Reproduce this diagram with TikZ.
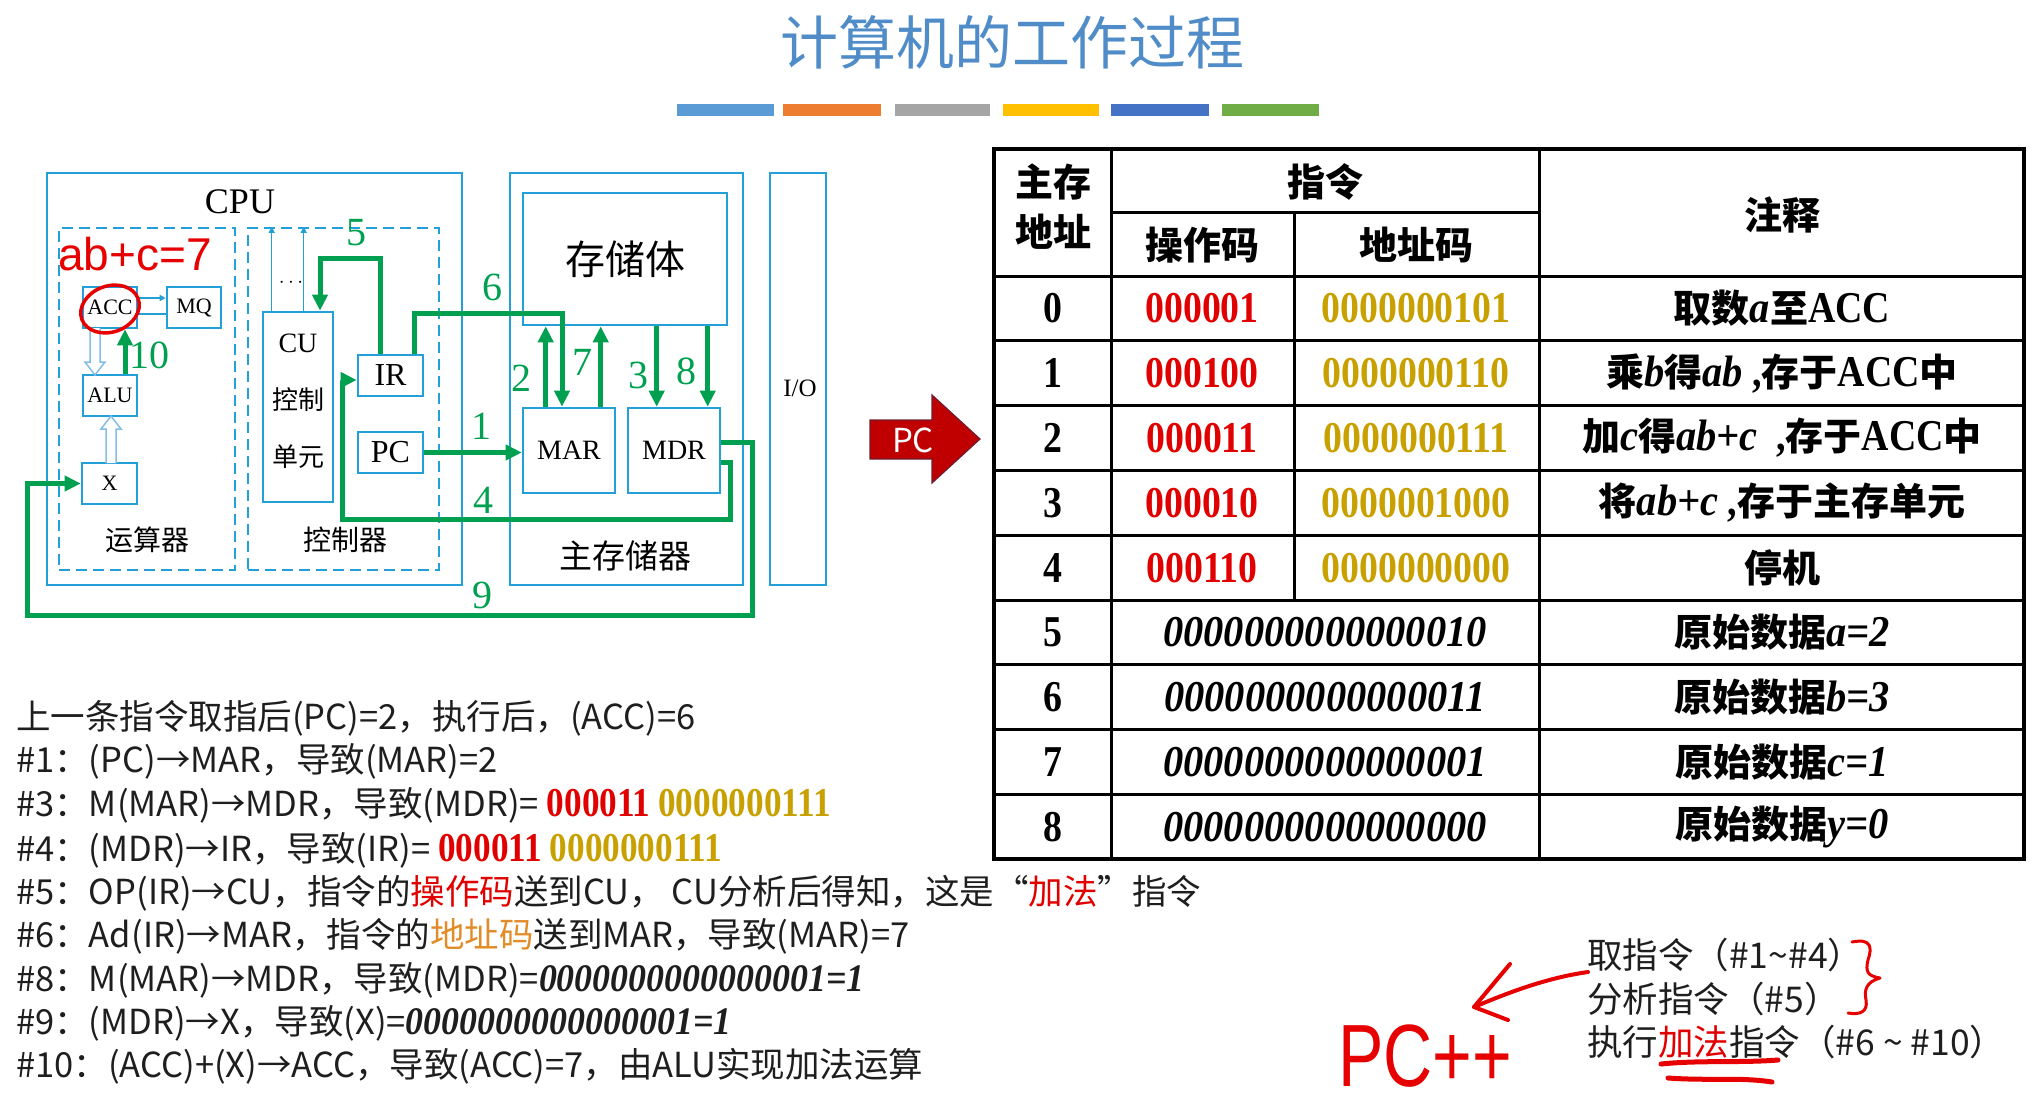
\documentclass[tikz,border=0pt]{standalone}
\usepackage{fontspec}
\usepackage{graphicx}
\usetikzlibrary{arrows.meta}
\setmainfont{Liberation Serif}
\newfontfamily\zh{Noto Sans CJK SC}
\newfontfamily\tnr[FakeStretch=0.86]{Liberation Serif}
\newfontfamily\tni[FakeStretch=0.92]{Liberation Serif}
\newfontfamily\hand{Liberation Sans}
\newcommand\fsz[1]{\fontsize{#1pt}{#1pt}\selectfont}
\definecolor{bx}{RGB}{35,160,215}
\definecolor{gr}{RGB}{0,160,80}
\definecolor{ttl}{RGB}{80,140,200}
\definecolor{rd}{RGB}{225,0,0}
\definecolor{gd}{RGB}{200,160,0}
\definecolor{org}{RGB}{225,140,40}
\definecolor{pcred}{RGB}{192,0,0}
\definecolor{pcedge}{RGB}{110,30,50}
\definecolor{hb}{RGB}{130,190,230}
\definecolor{hr}{RGB}{230,0,0}
\definecolor{txt}{RGB}{30,30,30}
\definecolor{ba}{RGB}{91,155,213}
\definecolor{bb}{RGB}{237,125,49}
\definecolor{bc}{RGB}{165,165,165}
\definecolor{bd}{RGB}{255,192,0}
\definecolor{be}{RGB}{68,114,196}
\definecolor{bf}{RGB}{112,173,71}
\newcommand\Z[1]{{\zh\bfseries\fsz{38}#1}}
\newcommand\tbf[1]{{\tnr\bfseries\fsz{44}#1}}
\newcommand\tbi[1]{{\tni\bfseries\itshape\fsz{44}#1}}
\newcommand\bnum[1]{{\tnr\bfseries\fsz{41}#1}}
\newcommand\bitn[1]{{\tni\bfseries\itshape\fsz{39}#1}}
\begin{document}
\begin{tikzpicture}[x=1pt,y=-1pt,
  bbox/.style={draw=bx, line width=2.6pt, inner sep=0pt, font=\fsz{22}},
  dbox/.style={draw=bx, line width=2.4pt, dash pattern=on 11pt off 6pt, inner sep=0pt},
  gar/.style={draw=gr, line width=5pt, -{Triangle[length=16pt,width=15pt]}},
  glbl/.style={text=gr, font=\fsz{40}, inner sep=0pt},
  thinb/.style={draw=bx, line width=1.5pt},
  hollow/.style={draw=hb, line width=1.5pt, fill=white},
  tline/.style={line width=3pt},
  thead/.style={font=\zh\bfseries\fsz{38}, inner sep=0pt},
  tnum/.style={font=\tnr\bfseries\fsz{44}, inner sep=0pt},
  tit/.style={font=\tni\bfseries\itshape\fsz{44}, inner sep=0pt},
  tcm/.style={inner sep=0pt},
  ltxt/.style={anchor=west, font=\zh\fsz{34.5}, text=txt, inner sep=0pt},
  rtxt/.style={anchor=west, font=\zh\fsz{35.5}, text=txt, inner sep=0pt},
  zhl/.style={font=\zh\fsz{28}, inner sep=0pt},
  hred/.style={draw=hr, line width=4pt, line cap=round, line join=round},
  bar/.style={inner sep=0pt, minimum height=12pt}]
\useasboundingbox (0,0) rectangle (2043,1101);

% title and bars
\node[text=ttl, font=\zh\fsz{58}, inner sep=0pt] (title) at (1012,42) {计算机的工作过程};
\node[bar, fill=ba, minimum width=97pt] (bar1) at (725.5,110) {};
\node[bar, fill=bb, minimum width=98pt] (bar2) at (832,110) {};
\node[bar, fill=bc, minimum width=95pt] (bar3) at (942.5,110) {};
\node[bar, fill=bd, minimum width=96pt] (bar4) at (1051,110) {};
\node[bar, fill=be, minimum width=98pt] (bar5) at (1160,110) {};
\node[bar, fill=bf, minimum width=97pt] (bar6) at (1270.5,110) {};

% ===== left diagram =====
\node[bbox, minimum width=415pt, minimum height=412pt] (CPU) at (254.5,379) {};
\node[font=\fsz{36}, inner sep=0pt] (cpul) at (240,202) {CPU};
\node[dbox, minimum width=176pt, minimum height=342pt] (ALUG) at (147,399) {};
\node[dbox, minimum width=191pt, minimum height=342pt] (CTRLG) at (343.5,399) {};
\node[bbox, minimum width=54pt, minimum height=41pt] (ACC) at (110,307.5) {ACC};
\node[bbox, minimum width=54pt, minimum height=41pt] (MQ) at (194,307.5) {MQ};
\node[bbox, minimum width=54pt, minimum height=41pt] (ALU) at (110,395.5) {ALU};
\node[bbox, minimum width=55pt, minimum height=41pt] (X) at (109.5,483.5) {X};
\node[zhl] (ysq) at (147,540) {运算器};
\node[zhl] (kzq) at (345,540) {控制器};
\node[bbox, minimum width=70pt, minimum height=190pt] (CU) at (298,407) {};
\node[font=\fsz{28}, inner sep=0pt] (cut1) at (298,343) {CU};
\node[font=\zh\fsz{26}, inner sep=0pt] (cut2) at (298,400) {控制};
\node[font=\zh\fsz{26}, inner sep=0pt] (cut3) at (298,457) {单元};
\node[bbox, font=\fsz{32}, minimum width=65pt, minimum height=41pt] (IR) at (390.5,375.5) {IR};
\node[bbox, font=\fsz{32}, minimum width=65pt, minimum height=41pt] (PC) at (390.5,452.5) {PC};
\node[bbox, minimum width=233pt, minimum height=412pt] (MEM) at (626.5,379) {};
\node[bbox, font=\zh\fsz{40}, minimum width=204pt, minimum height=132pt] (STO) at (625,259) {存储体};
\node[bbox, font=\fsz{28}, minimum width=92pt, minimum height=85pt] (MAR) at (569,450.5) {MAR};
\node[bbox, font=\fsz{28}, minimum width=92pt, minimum height=85pt] (MDR) at (674,450.5) {MDR};
\node[font=\zh\fsz{33}, inner sep=0pt] (zcq) at (625,556) {主存储器};
\node[bbox, minimum width=56pt, minimum height=412pt] (IO) at (798,379) {};
\node[font=\fsz{25}, inner sep=0pt] (iol) at (800,388) {I/O};

% thin internal connections
\draw[thinb, -{Triangle[length=6pt,width=6pt]}] ([yshift=9.5pt]ACC.east) -- ([yshift=9.5pt]ACC.east -| MQ.west);
\draw[thinb] ([yshift=-6.5pt]ACC.east) -- ([yshift=-6.5pt]ACC.east -| MQ.west);
\draw[thinb, -{Triangle[length=6pt,width=6pt]}] ([xshift=10pt]CU.north west) -- ([xshift=10pt]CU.north west |- CTRLG.north);
\draw[thinb, -{Triangle[length=6pt,width=6pt]}] ([xshift=42pt]CU.north west) -- ([xshift=42pt]CU.north west |- CTRLG.north);
\node[font=\fsz{22}, inner sep=0pt] (dots) at (291,283) {$\cdots$};
% hollow arrows
\draw[hollow] (90,328) -- (90,362) -- (85,362) -- (95,375) -- (105,362) -- (100,362) -- (100,328);
\draw[hollow] (106,463) -- (106,429) -- (101,429) -- (111,416) -- (121,429) -- (116,429) -- (116,463);

% green connectors
\coordinate (c4a) at (730,519);
\coordinate (c4b) at (342,519);
\coordinate (c5) at (320,258);
\coordinate (c6) at (562,313);
\coordinate (c9a) at (752,615);
\coordinate (c9b) at (27,615);
\draw[gar] (PC.east) -- (PC.east -| MAR.west);
\draw[gar] ([xshift=24pt]MAR.north west) -- ([xshift=24pt]MAR.north west |- STO.south);
\draw[gar] ([xshift=30pt]MDR.north west |- STO.south) -- ([xshift=30pt]MDR.north west);
\draw[gar] ([yshift=-11.5pt]MDR.east) -| (c4a) -- (c4b) |- ([yshift=-4.5pt]IR.west);
\draw[gar] ([xshift=24pt]IR.north west) |- (c5) -- (c5 |- CU.north);
\draw[gar] ([xshift=-10pt]IR.north east) |- (c6) -- (c6 |- MAR.north);
\draw[gar] ([xshift=79pt]MAR.north west) -- ([xshift=79pt]MAR.north west |- STO.south);
\draw[gar] ([xshift=81pt]MDR.north west |- STO.south) -- ([xshift=81pt]MDR.north west);
\draw[gar] ([yshift=8.5pt]MDR.east) -| (c9a) -- (c9b) |- (X.west);
\draw[gar] ([xshift=15pt]ALU.north) -- ([xshift=15pt]ACC.south);
\node[glbl] (g1) at (481,426) {1};
\node[glbl] (g2) at (521,378) {2};
\node[glbl] (g3) at (638,375) {3};
\node[glbl] (g4) at (483,500) {4};
\node[glbl] (g5) at (356,233) {5};
\node[glbl] (g6) at (492,287) {6};
\node[glbl] (g7) at (582,362) {7};
\node[glbl] (g8) at (686,371) {8};
\node[glbl] (g9) at (482,595) {9};
\node[glbl] (g10) at (149,355) {10};

% handwriting on the diagram
\node[text=hr, font=\hand\fsz{46}, inner sep=0pt] (abc) at (135,254) {ab+c=7};
\draw[hred, line width=3.5pt] ([yshift=-1.5pt]ACC.center) ellipse [x radius=30, y radius=23, rotate=20];

% PC arrow
\draw[fill=pcred, draw=pcedge, line width=1.2pt] (870,420) -- (932,420) -- (932,395) -- (980,439) -- (932,483) -- (932,459) -- (870,459) -- cycle;
\node[text=white, font=\zh\fsz{33}, inner sep=0pt] (pcl) at (913,440) {PC};

% ===== table =====
\draw[tline] (1111,149) -- (1111,859);
\draw[tline] (1539,149) -- (1539,859);
\draw[tline] (1294,212) -- (1294,600);
\draw[tline] (1111,212) -- (1539,212);
\foreach \i in {0,...,8} \draw[tline] (994,{276+64.8*\i}) -- (2024,{276+64.8*\i});
\draw[line width=4pt] (994,149) rectangle (2024,859);
\node[thead] (h1) at (1053,182) {主存};
\node[thead] (h1b) at (1053,232) {地址};
\node[thead] (h2) at (1325,182) {指令};
\node[thead] (h3) at (1202,245) {操作码};
\node[thead] (h4) at (1416,245) {地址码};
\node[thead] (h5) at (1782,215) {注释};
\foreach \i/\op/\ad in {0/000001/0000000101, 1/000100/0000000110, 2/000011/0000000111, 3/000010/0000001000, 4/000110/0000000000} {
  \node[tnum] (n\i) at (1053,{276+64.8*(\i+0.5)}) {\i};
  \node[tnum, text=rd] (op\i) at (1202,{276+64.8*(\i+0.5)}) {\op};
  \node[tnum, text=gd] (ad\i) at (1416,{276+64.8*(\i+0.5)}) {\ad};
}
\foreach \i/\v in {5/0000000000000010, 6/0000000000000011, 7/0000000000000001, 8/0000000000000000} {
  \node[tnum] (n\i) at (1053,{276+64.8*(\i+0.5)}) {\i};
  \node[tit] (v\i) at (1325,{276+64.8*(\i+0.5)}) {\v};
}
\node[tcm] (cm0) at (1782,308.4) {\Z{取数}\tbi{a}\Z{至}\tbf{ACC}};
\node[tcm] (cm1) at (1782,373.2) {\Z{乘}\tbi{b}\Z{得}\tbi{ab}\tbf{ ,}\Z{存于}\tbf{ACC}\Z{中}};
\node[tcm] (cm2) at (1782,438.0) {\Z{加}\tbi{c}\Z{得}\tbi{ab+c}\tbf{\ \ ,}\Z{存于}\tbf{ACC}\Z{中}};
\node[tcm] (cm3) at (1782,502.8) {\Z{将}\tbi{ab+c}\tbf{ ,}\Z{存于主存单元}};
\node[tcm] (cm4) at (1782,567.6) {\Z{停机}};
\node[tcm] (cm5) at (1782,632.4) {\Z{原始数据}\tbi{a=2}};
\node[tcm] (cm6) at (1782,697.2) {\Z{原始数据}\tbi{b=3}};
\node[tcm] (cm7) at (1782,762.0) {\Z{原始数据}\tbi{c=1}};
\node[tcm] (cm8) at (1782,826.8) {\Z{原始数据}\tbi{y=0}};

% ===== left text lines =====
\node[ltxt] (l1) at (16,718) {上一条指令取指后(PC)=2，执行后，(ACC)=6};
\node[ltxt] (l2) at (16,761) {\#1：(PC)→MAR，导致(MAR)=2};
\node[ltxt] (l3) at (16,805) {\#3：M(MAR)→MDR，导致(MDR)= \bnum{\color{rd}000011} \bnum{\color{gd}0000000111}};
\node[ltxt] (l4) at (16,850) {\#4：(MDR)→IR，导致(IR)= \bnum{\color{rd}000011} \bnum{\color{gd}0000000111}};
\node[ltxt] (l5) at (16,893) {\#5：OP(IR)→CU，指令的{\color{rd}操作码}送到CU， CU分析后得知，这是“{\color{rd}加法}”指令};
\node[ltxt] (l6) at (16,936) {\#6：Ad(IR)→MAR，指令的{\color{org}地址码}送到MAR，导致(MAR)=7};
\node[ltxt] (l7) at (16,980) {\#8：M(MAR)→MDR，导致(MDR)=\bitn{0000000000000001=1}};
\node[ltxt] (l8) at (16,1023) {\#9：(MDR)→X，导致(X)=\bitn{0000000000000001=1}};
\node[ltxt] (l9) at (16,1066) {\#10：(ACC)+(X)→ACC，导致(ACC)=7，由ALU实现加法运算};

% ===== bottom right notes =====
\node[rtxt] (s1) at (1587,955) {取指令（\#1\string~\#4）};
\node[rtxt] (s2) at (1587,999) {分析指令（\#5）};
\node[rtxt] (s3) at (1587,1042) {执行{\color{rd}加法}指令（\#6 \string~ \#10）};
\node[text=hr, font=\hand\fsz{68}, inner sep=0pt] (pcpp) at (1425,1056) {\scalebox{1}[1.3]{PC++}};
\coordinate (arrs) at (1588,972);
\coordinate (arrt) at (1474,1007);
\draw[hred] (arrs) .. controls (1545,978) and (1505,994) .. (arrt);
\draw[hred] (1510,964) -- (arrt) -- (1508,1020);
\draw[hred, line width=3pt] (1852,942) .. controls (1872,938) and (1872,948) .. (1868,960) .. controls (1865,972) and (1868,976) .. (1880,978) .. controls (1866,982) and (1864,990) .. (1866,1000) .. controls (1868,1012) and (1860,1015) .. (1848,1013);
\draw[hred, line width=5pt] (1661,1064) .. controls (1700,1060) and (1740,1063) .. (1778,1060);
\draw[hred, line width=5pt] (1668,1078) .. controls (1710,1081) and (1740,1077) .. (1772,1082);
\end{tikzpicture}
\end{document}
